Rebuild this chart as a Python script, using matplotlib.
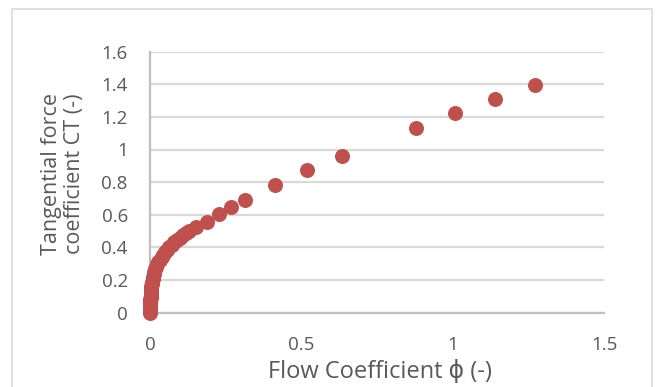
import matplotlib
matplotlib.use("Agg")
import matplotlib.pyplot as plt
from matplotlib.lines import Line2D

plt.rcParams['font.family'] = ['Open Sans', 'DejaVu Sans']

flow_coeff = [0.000, 0.000, 0.000, 0.0002, 0.0003, 0.0005, 0.0007, 0.001, 0.0013, 0.0017,
              0.002, 0.0025, 0.003, 0.0038, 0.0047, 0.0058, 0.007, 0.0085, 0.010, 0.012,
              0.014, 0.017, 0.020, 0.024, 0.028, 0.033, 0.038, 0.044, 0.050, 0.057,
              0.064, 0.072, 0.080, 0.089, 0.098, 0.108, 0.119, 0.130,
              0.152, 0.188, 0.228, 0.268, 0.314, 0.413, 0.519, 0.634, 0.879, 1.008, 1.140, 1.272]
ct_values = [0.000, 0.010, 0.020, 0.030, 0.040, 0.050, 0.060, 0.070, 0.080, 0.090,
             0.100, 0.115, 0.130, 0.145, 0.160, 0.175, 0.190, 0.205, 0.220, 0.235,
             0.250, 0.265, 0.280, 0.295, 0.310, 0.325, 0.340, 0.355, 0.370, 0.385,
             0.400, 0.415, 0.430, 0.445, 0.460, 0.475, 0.490, 0.503,
             0.523, 0.554, 0.603, 0.646, 0.689, 0.782, 0.874, 0.960, 1.132, 1.225, 1.311, 1.397]

x_ticks = [0, 0.5, 1, 1.5]
x_tick_labels = ["0", "0.5", "1", "1.5"]
y_ticks = [0, 0.2, 0.4, 0.6, 0.8, 1.0, 1.2, 1.4, 1.6]
y_tick_labels = ["0", "0.2", "0.4", "0.6", "0.8", "1", "1.2", "1.4", "1.6"]

W, H = 656, 387
fig = plt.figure(figsize=(W / 100, H / 100), dpi=100)
ax_l, ax_r, ax_b, ax_t = 150, 604, 312.5, 51.7
ax = fig.add_axes([ax_l / W, 1 - ax_b / H, (ax_r - ax_l) / W, (ax_b - ax_t) / H])
aw, ah = ax_r - ax_l, ax_b - ax_t

ax.plot(flow_coeff, ct_values, linestyle='none', marker='o', markersize=10.8,
        color='#C0504D', markeredgewidth=0, zorder=3, clip_on=False)

ax.set_xlim(0, 1.5)
ax.set_ylim(0, 1.6)
ax.set_xticks(x_ticks)
ax.set_xticklabels(x_tick_labels)
ax.set_yticks(y_ticks)
ax.set_yticklabels(y_tick_labels)
ax.tick_params(axis='both', length=0, labelsize=13.5, colors='#595959')
ax.tick_params(axis='y', pad=16)
ax.tick_params(axis='x', pad=17)
ax.grid(axis='y', color='#d9d9d9', linewidth=1.6)
ax.set_axisbelow(True)
for s in ['top', 'right']:
    ax.spines[s].set_visible(False)
ax.spines['left'].set_color('#bfbfbf')
ax.spines['left'].set_linewidth(1.6)
ax.spines['bottom'].set_color('#bfbfbf')
ax.spines['bottom'].set_linewidth(1.6)

ax.set_xlabel("Flow Coefficient ϕ (-)", fontsize=17, color='#595959')
ax.xaxis.label.set_va('baseline')
ax.xaxis.set_label_coords((380 - ax_l) / aw, (ax_b - 378) / ah)
ax.set_ylabel("Tangential force\ncoefficient CT (-)", fontsize=15.5, color='#595959',
              linespacing=1.15)
ax.yaxis.set_label_coords((85 - ax_l) / aw, (ax_b - 174) / ah)

# chart border (Excel-style)
fig.add_artist(Line2D([12 / W, 12 / W, 652 / W, 652 / W],
                      [-0.05, 1 - 9 / H, 1 - 9 / H, -0.05],
                      transform=fig.transFigure, color='#d9d9d9', linewidth=1.2))

fig.savefig("out.png", dpi=100, facecolor='white')
